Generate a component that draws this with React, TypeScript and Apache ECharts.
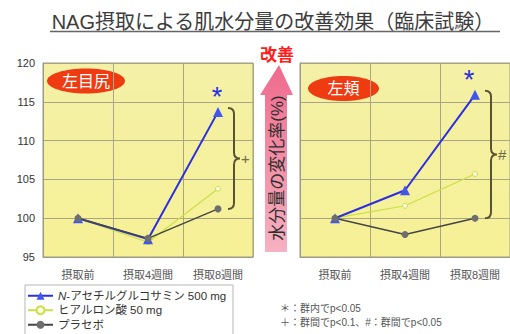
import React, { useEffect, useRef } from "react";
import * as echarts from "echarts";

// Timepoints and panel names
const categories = ["摂取前", "摂取4週間", "摂取8週間"];
const panelNames = ["左目尻", "左頬"];
const seriesNames = ["N-アセチルグルコサミン 500 mg", "ヒアルロン酸 50 mg", "プラセボ"];

// Skin moisture change rate (%), outer corner of left eye
const eyeNag = [100, 97.3, 113.7];
const eyeHya = [100, 96.9, 103.8];
const eyePla = [100, 97.4, 101.2];

// Skin moisture change rate (%), left cheek
const cheekNag = [100, 103.6, 115.9];
const cheekHya = [100, 101.6, 105.7];
const cheekPla = [100, 97.9, 100];

// Significance marks
const withinGroupMark = [false, false, true];
const betweenGroupMarks = ["+", "#"];

const yTicks = { min: 95, max: 120, interval: 5 };

const FONT = '"Liberation Sans", "Noto Sans CJK JP", sans-serif';
const BLUE = "#2b2fe0";
const GREEN = "#c9df45";
const GREY = "#454545";
const GRID_LINE = "#aaa684";
const BRACE = "#5a5232";

function nagData(values: number[], starOffset: number) {
  return values.map((v, i) =>
    withinGroupMark[i]
      ? {
          value: v,
          label: {
            show: true,
            formatter: "*",
            position: "top",
            offset: [starOffset, 9],
            color: BLUE,
            fontSize: 27,
            fontFamily: FONT,
          },
        }
      : v
  );
}

function braceSeries(gridIdx: number, top: number, bottom: number, mark: string) {
  return {
    type: "custom",
    xAxisIndex: gridIdx,
    yAxisIndex: gridIdx,
    silent: true,
    z: 5,
    data: [[2, top, bottom]],
    renderItem: (_params: any, api: any) => {
      const a = api.coord([api.value(0), api.value(1)]);
      const b = api.coord([api.value(0), api.value(2)]);
      const x0 = a[0] + 10;
      const x1 = a[0] + 16;
      const xt = a[0] + 22;
      const y0 = a[1] - 4;
      const y1 = b[1];
      const ym = (y0 + y1) / 2;
      const r = 6;
      const d =
        `M${x0},${y0} Q${x1},${y0} ${x1},${y0 + r} L${x1},${ym - r} ` +
        `Q${x1},${ym} ${xt},${ym} Q${x1},${ym} ${x1},${ym + r} ` +
        `L${x1},${y1 - r} Q${x1},${y1} ${x0},${y1}`;
      return {
        type: "group",
        children: [
          {
            type: "path",
            shape: { pathData: d },
            style: { fill: "none", stroke: BRACE, lineWidth: 2 },
          },
          {
            type: "text",
            x: xt + 1,
            y: ym,
            style: {
              text: mark,
              fill: "#6f6a48",
              fontSize: 15,
              fontFamily: FONT,
              verticalAlign: "middle",
            },
          },
        ],
      };
    },
  };
}

function lineSeries(gridIdx: number, nag: number[], hya: number[], pla: number[], starOffset: number) {
  return [
    {
      name: seriesNames[0],
      type: "line",
      xAxisIndex: gridIdx,
      yAxisIndex: gridIdx,
      data: nagData(nag, starOffset),
      symbol: "triangle",
      symbolSize: 10,
      itemStyle: { color: "#4256ee" },
      lineStyle: { color: BLUE, width: 2 },
      z: 3,
    },
    {
      name: seriesNames[1],
      type: "line",
      xAxisIndex: gridIdx,
      yAxisIndex: gridIdx,
      data: hya,
      symbol: "circle",
      symbolSize: 5,
      itemStyle: { color: "#fbfbe6", borderColor: GREEN, borderWidth: 1 },
      lineStyle: { color: GREEN, width: 1.2 },
      z: 2,
    },
    {
      name: seriesNames[2],
      type: "line",
      xAxisIndex: gridIdx,
      yAxisIndex: gridIdx,
      data: pla,
      symbol: "circle",
      symbolSize: 7,
      itemStyle: { color: "#6e6e6e" },
      lineStyle: { color: GREY, width: 1.5 },
      z: 4,
    },
  ];
}

const plotBg = new echarts.graphic.LinearGradient(0, 0, 0, 1, [
  { offset: 0, color: "#f4f0a6" },
  { offset: 1, color: "#f6f196" },
]);

function makeGrid(left: number, width: number) {
  return {
    left,
    top: 63,
    width,
    height: 194,
    show: true,
    backgroundColor: plotBg,
    borderColor: "#9c9a84",
    borderWidth: 1,
  };
}

function makeXAxis(gridIndex: number) {
  return {
    type: "category",
    gridIndex,
    data: categories,
    boundaryGap: true,
    axisTick: { show: false },
    axisLine: { show: true, lineStyle: { color: "#9c9a84" } },
    axisLabel: { color: "#555", fontSize: 11, fontFamily: FONT, margin: 12 },
    splitLine: { show: true, lineStyle: { color: GRID_LINE, width: 1 } },
  };
}

function makeYAxis(gridIndex: number, showLabels: boolean) {
  return {
    type: "value",
    gridIndex,
    ...yTicks,
    axisLine: { show: true, lineStyle: { color: "#9c9a84" } },
    axisTick: { show: false },
    axisLabel: { show: showLabels, color: "#333", fontSize: 11, fontFamily: FONT, margin: 8 },
    splitLine: { show: true, lineStyle: { color: GRID_LINE, width: 1 } },
  };
}

function panelBadge(cx: number, cy: number, rx: number, text: string) {
  return {
    type: "group",
    z: 10,
    children: [
      {
        type: "ellipse",
        shape: { cx, cy, rx, ry: 12.5 },
        style: { fill: "#ef3b12" },
      },
      {
        type: "text",
        x: cx,
        y: cy,
        style: {
          text,
          fill: "#fff",
          fontSize: 16,
          fontFamily: FONT,
          align: "center",
          verticalAlign: "middle",
        },
      },
    ],
  };
}

export default function App() {
  const ref = useRef<HTMLDivElement>(null);

  useEffect(() => {
    if (!ref.current) return;
    const chart = echarts.init(ref.current, null, { renderer: "svg" });

    const option: any = {
      animation: false,
      backgroundColor: "#ffffff",
      textStyle: { fontFamily: FONT },
      grid: [makeGrid(43, 210), makeGrid(300, 215)],
      xAxis: [makeXAxis(0), makeXAxis(1)],
      yAxis: [makeYAxis(0, true), makeYAxis(1, false)],
      legend: {
        data: seriesNames,
        orient: "vertical",
        left: 27,
        top: 290,
        itemWidth: 25,
        itemHeight: 10,
        itemGap: 3,
        padding: 0,
        formatter: (name: string) =>
          name.startsWith("N-") ? `{i|N}${name.slice(1)}` : name,
        textStyle: {
          fontSize: 11.5,
          color: "#333",
          fontFamily: FONT,
          rich: {
            i: { fontStyle: "italic", fontSize: 11.5, color: "#333", fontFamily: FONT },
          },
        },
        z: 20,
      },
      graphic: [
        // title and underline
        {
          type: "text",
          x: 273,
          y: 22,
          style: {
            text: "NAG摂取による肌水分量の改善効果（臨床試験）",
            fill: "#3c3c3c",
            fontSize: 20,
            fontFamily: FONT,
            align: "center",
            verticalAlign: "middle",
          },
        },
        {
          type: "line",
          shape: { x1: 50, y1: 31.5, x2: 500, y2: 31.5 },
          style: { stroke: "#666", lineWidth: 1.5 },
        },
        // improvement arrow
        {
          type: "polygon",
          shape: {
            points: [
              [279, 65],
              [293, 95],
              [287, 95],
              [287, 252],
              [265, 252],
              [265, 95],
              [260, 95],
            ],
          },
          style: {
            fill: new echarts.graphic.LinearGradient(0, 0, 0, 1, [
              { offset: 0, color: "#ef6a8c" },
              { offset: 1, color: "#f6b2c2" },
            ]),
          },
        },
        {
          type: "text",
          x: 277,
          y: 55,
          style: {
            text: "改善",
            fill: "#ff1c1c",
            fontSize: 17,
            fontWeight: "bold",
            fontFamily: FONT,
            align: "center",
            verticalAlign: "middle",
          },
        },
        {
          type: "text",
          x: 277,
          y: 168,
          rotation: Math.PI / 2,
          style: {
            text: "水分量の変化率(%)",
            fill: "#2e2e2e",
            fontSize: 17,
            fontFamily: FONT,
            align: "center",
            verticalAlign: "middle",
          },
        },
        panelBadge(86, 81, 39, panelNames[0]),
        panelBadge(343.5, 88.5, 35.5, panelNames[1]),
        // legend frame
        {
          type: "rect",
          z: 0,
          shape: { x: 25, y: 285, width: 208, height: 60 },
          style: { fill: "#fff", stroke: "#b5b5b5", lineWidth: 1 },
        },
        // footnotes
        {
          type: "text",
          x: 280,
          y: 308,
          style: {
            text: "＊：群内でp<0.05",
            fill: "#555",
            fontSize: 10,
            fontFamily: FONT,
            verticalAlign: "middle",
          },
        },
        {
          type: "text",
          x: 280,
          y: 322,
          style: {
            text: "＋：群間でp<0.1、#：群間でp<0.05",
            fill: "#555",
            fontSize: 10,
            fontFamily: FONT,
            verticalAlign: "middle",
          },
        },
      ],
      series: [
        ...lineSeries(0, eyeNag, eyeHya, eyePla, -1),
        ...lineSeries(1, cheekNag, cheekHya, cheekPla, -6),
        braceSeries(0, eyeNag[2], eyePla[2], betweenGroupMarks[0]),
        braceSeries(1, cheekNag[2], cheekPla[2], betweenGroupMarks[1]),
      ],
    };

    chart.setOption(option);
    return () => chart.dispose();
  }, []);

  return (
    <div
      ref={ref}
      style={{ position: "fixed", left: 0, top: 0, width: 510, height: 334 }}
    />
  );
}
